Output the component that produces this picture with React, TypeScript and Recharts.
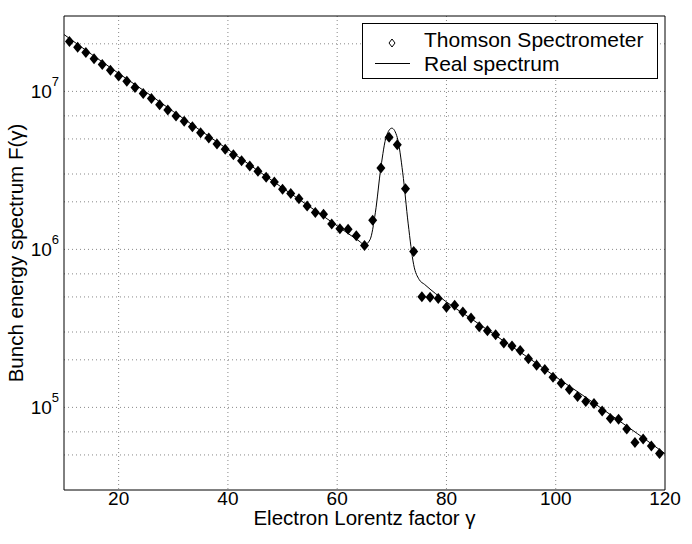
import React from 'react';
import { ComposedChart, Line, Scatter, XAxis, YAxis, CartesianGrid, Legend } from 'recharts';

const FONT = '"Liberation Sans", Arial, Helvetica, sans-serif';

// Thomson spectrometer measurements
const markerGamma = [
  11, 12.5, 14, 15.5, 17, 18.5, 20, 21.5, 23, 24.5, 26, 27.5, 29, 30.5, 32, 33.5, 35, 36.5, 38, 39.5,
  41, 42.5, 44, 45.5, 47, 48.5, 50, 51.5, 53, 54.5, 56, 57.5, 59, 60.5, 62, 63.5, 65, 66.5, 68, 69.5,
  71, 72.5, 74, 75.5, 77, 78.5, 80, 81.5, 83, 84.5, 86, 87.5, 89, 90.5, 92, 93.5, 95, 96.5, 98, 99.5,
  101, 102.5, 104, 105.5, 107, 108.5, 110, 111.5, 113, 114.5, 116, 117.5, 119,
];
const markerF = [
  2.07e7, 1.9e7, 1.76e7, 1.61e7, 1.48e7, 1.36e7, 1.25e7, 1.16e7, 1.06e7, 9.7e6,
  9.0e6, 8.24e6, 7.62e6, 6.98e6, 6.46e6, 5.98e6, 5.48e6, 5.07e6, 4.65e6, 4.3e6,
  3.97e6, 3.64e6, 3.37e6, 3.12e6, 2.86e6, 2.67e6, 2.4e6, 2.26e6, 2.09e6, 1.88e6,
  1.71e6, 1.67e6, 1.45e6, 1.35e6, 1.34e6, 1.22e6, 1.06e6, 1.53e6, 3.27e6, 5.12e6,
  4.6e6, 2.42e6, 9.7e5, 5.02e5, 4.97e5, 4.88e5, 4.3e5, 4.43e5, 4.02e5, 3.68e5,
  3.24e5, 3.05e5, 2.88e5, 2.56e5, 2.45e5, 2.29e5, 2.03e5, 1.85e5, 1.74e5, 1.55e5,
  1.42e5, 1.3e5, 1.17e5, 1.09e5, 1.06e5, 9.5e4, 8.5e4, 8.4e4, 7.3e4, 6.0e4,
  6.3e4, 5.7e4, 5.1e4,
];

// real spectrum (solid line)
const lineGamma = [10, 15, 20, 25, 30, 35, 40, 45, 50, 55, 60, 62, 64, 65, 66, 67, 68, 69, 70, 71, 72, 73, 74, 75, 76, 78, 80, 85, 90, 95, 100, 105, 110, 115, 120];
const lineF = [
  2.29e7, 1.72e7, 1.3e7, 9.9e6, 7.46e6, 5.65e6, 4.29e6, 3.24e6, 2.45e6, 1.86e6,
  1.41e6, 1.26e6, 1.13e6, 1.07e6, 1.15e6, 1.72e6, 3.3e6, 5.2e6, 5.85e6, 5.1e6,
  3.05e6, 1.45e6, 8.0e5, 6.45e5, 6.0e5, 5.25e5, 4.65e5, 3.55e5, 2.7e5, 2.06e5,
  1.56e5, 1.19e5, 9.0e4, 6.8e4, 5.1e4,
];

const xTicks = [20, 40, 60, 80, 100, 120];
const xGrid = [20, 40, 60, 80, 100];
const yMajor = [1e5, 1e6, 1e7];
const yGrid = [
  4e4, 5e4, 6e4, 7e4, 8e4, 9e4, 1e5, 2e5, 3e5, 4e5, 5e5, 6e5, 7e5, 8e5, 9e5,
  1e6, 2e6, 3e6, 4e6, 5e6, 6e6, 7e6, 8e6, 9e6, 1e7, 2e7,
];

const markers = markerGamma.map((g, i) => ({ gamma: g, f: markerF[i] }));
const spectrum = lineGamma.map((g, i) => ({ gamma: g, f: lineF[i] }));

const Diamond = (props: any) => {
  const { cx, cy } = props;
  return <polygon points={`${cx},${cy - 5.5} ${cx + 4.5},${cy} ${cx},${cy + 5.5} ${cx - 4.5},${cy}`} fill="#000" />;
};

const YTick = ({ x, y, payload }: any) => {
  const exp = Math.round(Math.log10(payload.value));
  return (
    <text x={x} y={y + 7} textAnchor="end" fill="#000" fontSize={19}>
      10<tspan dy={-12} fontSize={13}>{exp}</tspan>
    </text>
  );
};

const LegendBox = () => (
  <svg width={296} height={56} style={{ display: 'block' }}>
    <rect x={0.5} y={0.5} width={295} height={55} fill="#fff" stroke="#000" />
    <polygon points="30,16 33,20 30,24 27,20" fill="none" stroke="#000" strokeWidth={1} />
    <text x={62} y={24} fontSize={21} fill="#000">Thomson Spectrometer</text>
    <line x1={13} x2={48} y1={40.5} y2={40.5} stroke="#000" />
    <text x={62} y={48} fontSize={21} fill="#000">Real spectrum</text>
  </svg>
);

export default function App() {
  return (
    <div style={{ position: 'absolute', left: 0, top: 0, width: 692, height: 544, background: '#fff', fontFamily: FONT }}>
      <ComposedChart width={692} height={544} margin={{ top: 16, right: 27, bottom: 0, left: 0 }}>
        <CartesianGrid
          stroke="#888"
          strokeDasharray="1 3"
          verticalValues={xGrid}
          horizontalValues={yGrid}
        />
        <XAxis
          dataKey="gamma"
          type="number"
          domain={[10, 120]}
          ticks={xTicks}
          allowDataOverflow
          height={54}
          tickLine={false}
          tickSize={0}
          tickMargin={2}
          stroke="#000"
          tick={{ fill: '#000', fontSize: 19 }}
          label={{ value: 'Electron Lorentz factor γ', position: 'insideBottom', offset: 19, fill: '#000', fontSize: 20.5 }}
        />
        <XAxis xAxisId="top" orientation="top" mirror type="number" domain={[10, 120]} ticks={xGrid} allowDataOverflow tick={false} tickSize={5} stroke="#000" />
        <XAxis xAxisId="bottomTicks" orientation="bottom" mirror type="number" domain={[10, 120]} ticks={xGrid} allowDataOverflow tick={false} tickSize={5} axisLine={false} stroke="#000" />
        <YAxis
          scale="log"
          domain={[3e4, 3e7]}
          ticks={yMajor}
          allowDataOverflow
          width={64}
          tickLine={false}
          tickSize={0}
          tickMargin={5}
          stroke="#000"
          tick={<YTick />}
          label={{ value: 'Bunch energy spectrum F(γ)', angle: -90, position: 'insideLeft', offset: 16, fill: '#000', fontSize: 20.5, style: { textAnchor: 'middle' } }}
        />
        <YAxis yAxisId="right" orientation="right" mirror scale="log" domain={[3e4, 3e7]} ticks={yGrid} allowDataOverflow tick={false} tickSize={4} stroke="#000" />
        <YAxis yAxisId="leftTicks" orientation="left" mirror scale="log" domain={[3e4, 3e7]} ticks={yGrid} allowDataOverflow tick={false} tickSize={4} axisLine={false} stroke="#000" />
        <Line
          data={spectrum}
          dataKey="f"
          type="monotone"
          stroke="#000"
          strokeWidth={1}
          dot={false}
          isAnimationActive={false}
        />
        <Scatter data={markers} dataKey="f" shape={<Diamond />} isAnimationActive={false} />
        <Legend
          layout="horizontal"
          align="center"
          verticalAlign="middle"
          wrapperStyle={{ left: 362, top: 23, width: 296, height: 56 }}
          content={() => <LegendBox />}
        />
      </ComposedChart>
    </div>
  );
}
